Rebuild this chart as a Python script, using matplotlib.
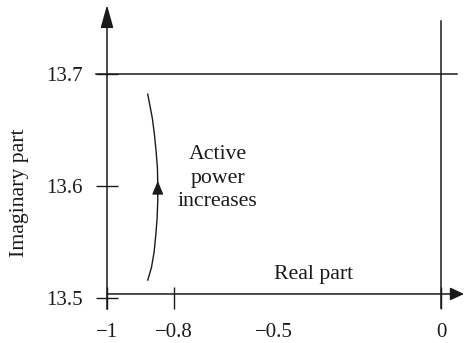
"""Root locus style sketch: imaginary vs real part as active power increases."""

import matplotlib

matplotlib.use("Agg")
import matplotlib.pyplot as plt

plt.rcParams["font.family"] = ["Liberation Serif", "DejaVu Serif"]

INK = "#1a1a1a"

# eigenvalue path
real_part = [-0.878, -0.867, -0.859, -0.854, -0.850, -0.848, -0.848,
             -0.849, -0.853, -0.858, -0.864, -0.871, -0.878]
imag_part = [13.516, 13.527, 13.541, 13.556, 13.571, 13.587, 13.601,
             13.616, 13.631, 13.646, 13.660, 13.671, 13.682]

x_ticks = [-1, -0.8, -0.5, 0]
x_labels = ["\u22121", "\u22120.8", "\u22120.5", "0"]
y_ticks = [13.5, 13.6, 13.7]
y_labels = ["13.5", "13.6", "13.7"]

fig = plt.figure(figsize=(4.65, 3.43), dpi=100)
fig.patch.set_facecolor("white")
ax = fig.add_axes([107 / 465, 45 / 343, 358 / 465, 298 / 343])
ax.set_xlim(-1, -1 + 358 / 334)
ax.set_ylim(13.5, 13.5 + 298 / 1120)
for s in ax.spines.values():
    s.set_visible(False)

ax.set_xticks(x_ticks, x_labels)
ax.set_yticks(y_ticks, y_labels)
ax.tick_params(direction="inout", length=15.5, width=1.0, color=INK, labelcolor=INK,
               labelsize=15)
ax.tick_params(axis="x", pad=10)
ax.tick_params(axis="y", pad=9.5)
ax.xaxis.get_major_ticks()[2].tick1line.set_visible(False)

# axes with arrow heads
ax.annotate("", xy=(-1, 13.7616), xytext=(-1, 13.49), annotation_clip=False,
            arrowprops=dict(arrowstyle="-|>,head_length=1.0,head_width=0.28",
                            mutation_scale=14, color=INK, lw=1.1, shrinkA=0, shrinkB=0))
ax.annotate("", xy=(0.069, 13.5036), xytext=(-1, 13.5036), annotation_clip=False,
            arrowprops=dict(arrowstyle="-|>,head_length=0.6,head_width=0.28",
                            mutation_scale=14, color=INK, lw=1.1, shrinkA=0, shrinkB=0))

# reference lines
ax.plot([-1.033, 0.048], [13.7, 13.7], color=INK, lw=1.1, clip_on=False)
ax.plot([0, 0], [13.491, 13.7473], color=INK, lw=1.1, clip_on=False)

# eigenvalue path with direction arrow
ax.plot(real_part, imag_part, color=INK, lw=1.0)
ax.annotate("", xy=(real_part[6], 13.6045), xytext=(real_part[6], 13.592),
            arrowprops=dict(arrowstyle="-|>,head_length=0.6,head_width=0.25",
                            mutation_scale=14, color=INK, lw=0.8, shrinkA=0, shrinkB=0))

ax.text(-0.668, 13.607, "Active\npower\nincreases", ha="center", va="center",
        fontsize=15.7, color=INK, linespacing=1.32)
ax.text(-0.383, 13.5214, "Real part", ha="center", va="center", fontsize=15.7, color=INK)

ax.set_ylabel("Imaginary part", fontsize=15.7, color=INK)
ax.yaxis.set_label_coords(-0.218, 0.354)

fig.savefig("out.png", dpi=100)
